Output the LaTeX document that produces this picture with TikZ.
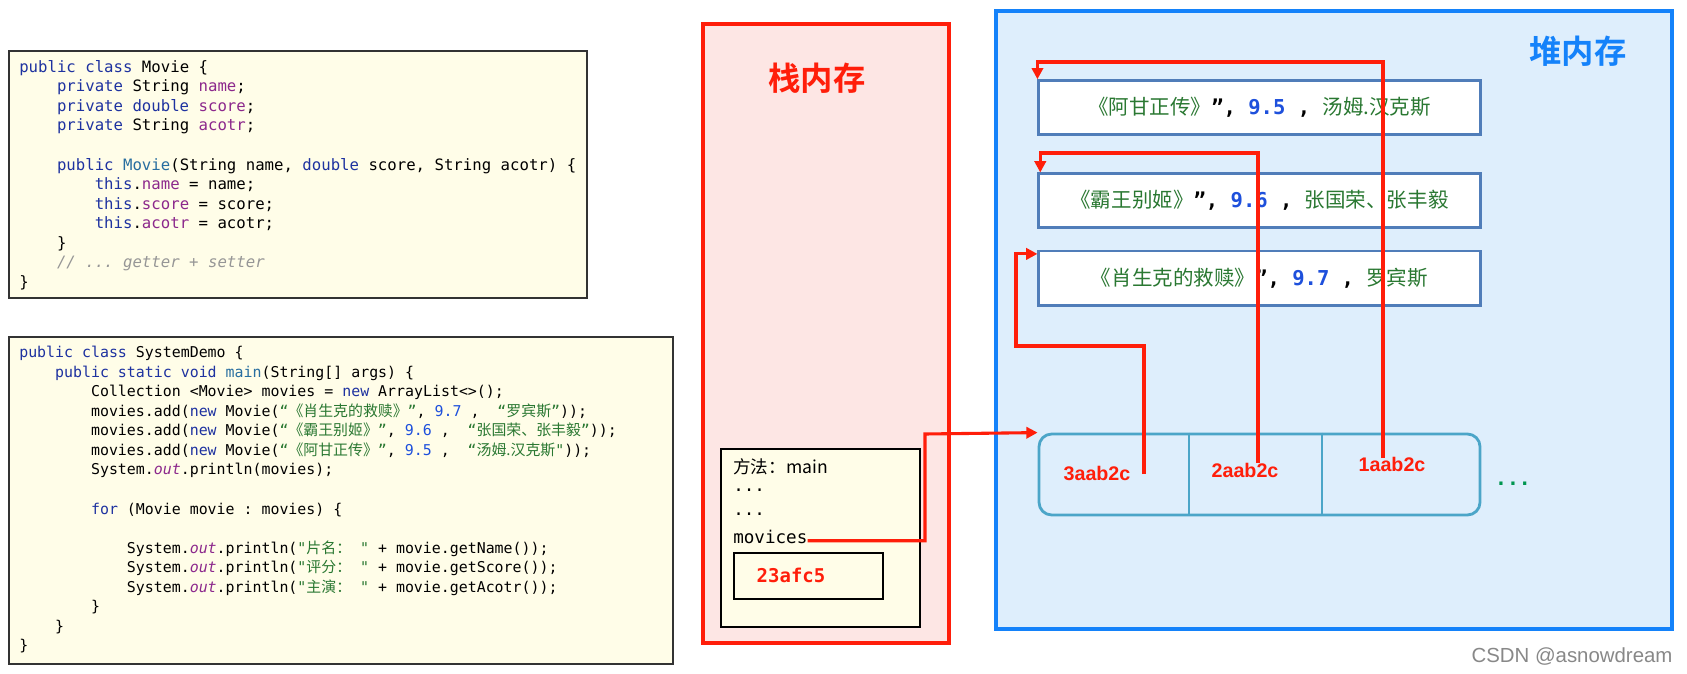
\documentclass[tikz,border=0pt]{standalone}
\usepackage{fontspec}
\setmainfont{Liberation Sans}
\setmonofont{DejaVu Sans Mono}
\newfontfamily\cjk{Noto Sans CJK SC}[BoldFont={Noto Sans CJK SC Bold}]
\usetikzlibrary{arrows.meta, positioning, fit}

\definecolor{jvKey}{RGB}{30, 50, 160}
\definecolor{jvFun}{RGB}{40, 110, 160}
\definecolor{jvField}{RGB}{140, 40, 140}
\definecolor{jvStr}{RGB}{42, 120, 50}
\definecolor{jvNum}{RGB}{30, 80, 220}
\definecolor{jvCmt}{RGB}{150, 150, 150}
\definecolor{stackRed}{RGB}{255, 30, 10}
\definecolor{stackFill}{RGB}{253, 230, 228}
\definecolor{heapBlue}{RGB}{20, 130, 250}
\definecolor{heapFill}{RGB}{222, 238, 252}
\definecolor{objBlue}{RGB}{80, 125, 185}
\definecolor{arrBlue}{RGB}{75, 165, 200}
\definecolor{codeFill}{RGB}{255, 253, 232}
\definecolor{dotGreen}{RGB}{0, 150, 80}
\definecolor{wmGray}{RGB}{136, 136, 136}

\newcommand{\jkw}[1]{\textcolor{jvKey}{#1}}
\newcommand{\jfn}[1]{\textcolor{jvFun}{#1}}
\newcommand{\jfld}[1]{\textcolor{jvField}{#1}}
\newcommand{\jstr}[1]{\textcolor{jvStr}{#1}}
\newcommand{\jnum}[1]{\textcolor{jvNum}{#1}}
\newcommand{\jout}{\textcolor{jvField}{\itshape out}}
\newcommand{\jcmt}[1]{\textcolor{jvCmt}{\itshape #1}}
\newcommand{\zh}[1]{{\cjk #1}}
\newcommand{\jinA}{\hphantom{0000}}
\newcommand{\jinB}{\hphantom{00000000}}
\newcommand{\jinC}{\hphantom{000000000000}}
\newcommand{\objtxt}[3]{\textcolor{jvStr}{\zh{#1}}{\ttfamily\bfseries ”, \textcolor{jvNum}{#2} , }\textcolor{jvStr}{\zh{#3}}}

\tikzset{
  codebox/.style={rectangle, draw=black!80, line width=0.9pt, fill=codeFill, inner sep=0pt},
  codetxt/.style={anchor=north west, align=left, inner sep=0pt, font=\ttfamily\fontsize{#1}{13.9}\selectfont},
  memstack/.style={rectangle, draw=stackRed, line width=2.8pt, fill=stackFill, inner sep=0pt},
  memheap/.style={rectangle, draw=heapBlue, line width=2.8pt, fill=heapFill, inner sep=0pt},
  memtitle/.style={font=\cjk\bfseries\fontsize{23}{26}\selectfont, text=#1},
  objbox/.style={rectangle, draw=objBlue, line width=2pt, fill=white, inner sep=0pt, minimum width=11.03cm, minimum height=#1, font=\fontsize{14.6}{17}\selectfont},
  arrbox/.style={rectangle, rounded corners=9pt, draw=arrBlue, line width=2pt, fill=heapFill, inner sep=0pt},
  framebox/.style={rectangle, draw=black, line width=1pt, fill=codeFill, inner sep=0pt},
  frametxt/.style={anchor=west, inner sep=0pt, font=\ttfamily\fontsize{12.5}{14}\selectfont},
  addrtxt/.style={text=stackRed, font=\bfseries\fontsize{14}{16}\selectfont},
  refarrow/.style={draw=stackRed, line width=2.2pt, -{Triangle[length=8pt, width=8pt]}},
}

\begin{document}
\begin{tikzpicture}[x=0.025cm, y=-0.025cm]
  \fill[white] (0,0) rectangle (1687,674);

  % Code: Movie class
  \node[codebox, fit={(9,51) (587,298)}] (movieBox) {};
  \node[codetxt=11.15] (movieCode) at (19,60) {%
\jkw{public class} Movie \{\\
\jinA\jkw{private} String \jfld{name};\\
\jinA\jkw{private double} \jfld{score};\\
\jinA\jkw{private} String \jfld{acotr};\\
\mbox{}\\
\jinA\jkw{public} \jfn{Movie}(String name, \jkw{double} score, String acotr) \{\\
\jinB\jkw{this}.\jfld{name} = name;\\
\jinB\jkw{this}.\jfld{score} = score;\\
\jinB\jkw{this}.\jfld{acotr} = acotr;\\
\jinA\}\\
\jinA\jcmt{// ... getter + setter}\\
\}};

  % Code: SystemDemo class
  \node[codebox, fit={(9,337) (673,664)}] (demoBox) {};
  \node[codetxt=10.6] (demoCode) at (19,346) {%
\jkw{public class} SystemDemo \{\\
\jinA\jkw{public static void} \jfn{main}(String[] args) \{\\
\jinB Collection <Movie> movies = \jkw{new} ArrayList<>();\\
\jinB movies.add(\jkw{new} Movie(\jstr{“\zh{《肖生克的救赎》}”}, \jnum{9.7} ,~~\jstr{“\zh{罗宾斯}”}));\\
\jinB movies.add(\jkw{new} Movie(\jstr{“\zh{《霸王别姬》}”}, \jnum{9.6} ,~~\jstr{“\zh{张国荣、张丰毅}”}));\\
\jinB movies.add(\jkw{new} Movie(\jstr{“\zh{《阿甘正传》}”}, \jnum{9.5} ,~~\jstr{“\zh{汤姆.汉克斯}"}));\\
\jinB System.\jout.println(movies);\\
\mbox{}\\
\jinB\jkw{for} (Movie movie : movies) \{\\
\mbox{}\\
\jinC System.\jout.println(\jstr{"\zh{片名：}~"} + movie.getName());\\
\jinC System.\jout.println(\jstr{"\zh{评分：}~"} + movie.getScore());\\
\jinC System.\jout.println(\jstr{"\zh{主演：}~"} + movie.getAcotr());\\
\jinB\}\\
\jinA\}\\
\}};

  % Stack memory
  \node[memstack, fit={(703,24) (949,643)}] (stack) {};
  \node[memtitle=stackRed] (stackT) at (817,78) {栈内存};
  \node[framebox, fit={(721,449) (920,627)}] (frame) {};
  \node[frametxt] (fname) at (733,467) {\zh{方法：main}};
  \node[frametxt] (fdotsA) at (733,490) {...};
  \node[frametxt] (fdotsB) at (733,514) {...};
  \node[frametxt] (mv) at (733,537) {movices};
  \node[framebox, fit={(734,553) (883,599)}] (addrBox) {};
  \node[text=stackRed, font=\ttfamily\bfseries\fontsize{13.5}{16}\selectfont] (addr) at (791,575) {23afc5};

  % Heap memory
  \node[memheap, fit={(996,11) (1672,629)}] (heap) {};
  \node[memtitle=heapBlue] (heapT) at (1578,51) {堆内存};
  \node[objbox=1.34cm] (obj1) at (1259.5,107.5) {\objtxt{《阿甘正传》}{9.5}{汤姆.汉克斯}};
  \node[objbox=1.33cm] (obj2) at (1259.5,200.5) {\objtxt{《霸王别姬》}{9.6}{张国荣、张丰毅}};
  \node[objbox=1.37cm] (obj3) at (1259.5,278.5) {\objtxt{《肖生克的救赎》}{9.7}{罗宾斯}};

  % ArrayList
  \node[arrbox, fit={(1039,434) (1480,515)}] (arr) {};
  \draw[arrBlue, line width=2pt] (1189,0 |- arr.north) -- (1189,0 |- arr.south);
  \draw[arrBlue, line width=2pt] (1322,0 |- arr.north) -- (1322,0 |- arr.south);
  \node[addrtxt] (c3) at (1097,473) {3aab2c};
  \node[addrtxt] (c2) at (1245,470) {2aab2c};
  \node[addrtxt] (c1) at (1392,464) {1aab2c};
  \node[text=dotGreen, font=\ttfamily\bfseries\fontsize{14}{16}\selectfont] (more) at (1513,484) {...};

  \node[text=wmGray, font=\fontsize{14.5}{16}\selectfont] (wm) at (1572,657) {CSDN @asnowdream};

  % References
  \coordinate (a3) at (1144,474);
  \coordinate (a2) at (1258,463);
  \coordinate (a1) at (1383,458);
  \draw[refarrow] ([yshift=2pt]mv.base east) -| (925,434) -- (arr.north west);
  \draw[refarrow] (a3) |- (1016,346) |- ([yshift=-3pt]obj3.north west);
  \draw[refarrow] (a2) -- (1258,153) -| ([xshift=2pt]obj2.north west);
  \draw[refarrow] (a1) -- (1383,62) -| (obj1.north west);
\end{tikzpicture}
\end{document}
